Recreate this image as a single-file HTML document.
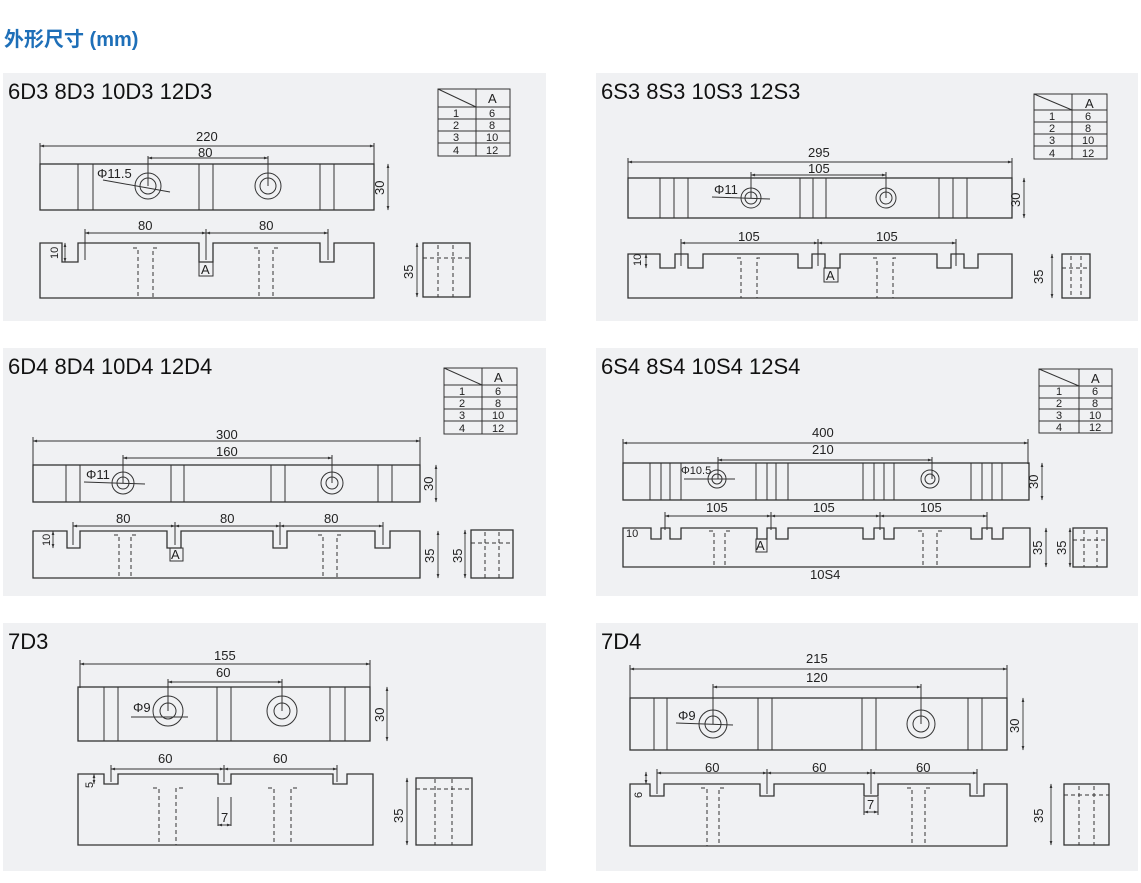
<!DOCTYPE html>
<html><head><meta charset="utf-8"><style>
body{margin:0;background:#fff;}
svg{display:block;}
text{font-family:"Liberation Sans",Arial,sans-serif;fill:#222;}
.t{font-size:22px;fill:#111;}
.d{font-size:13px;}
.s{font-size:11px;}
.o{fill:none;stroke:#333;stroke-width:1.3;}
.l{fill:none;stroke:#333;stroke-width:1;}
.h{fill:none;stroke:#333;stroke-width:1;stroke-dasharray:4,3;}
.dim{stroke:#333;stroke-width:0.9;marker-start:url(#a);marker-end:url(#a);}
</style></head><body>
<svg width="1141" height="883" viewBox="0 0 1141 883" xmlns="http://www.w3.org/2000/svg">
<defs><marker id="a" viewBox="0 0 10 10" refX="9" refY="5" markerWidth="7" markerHeight="5" orient="auto-start-reverse"><path d="M0,2 L10,5 L0,8z" fill="#333"/></marker></defs>
<rect width="1141" height="883" fill="#fff"/>
<text x="4" y="46" style="font-family:'Liberation Sans','Noto Sans CJK SC',sans-serif;font-size:20px;font-weight:bold;fill:#1e6fb8">外形尺寸 (mm)</text>
<rect x="3" y="73" width="543" height="248" fill="#f0f1f3"/>
<rect x="596" y="73" width="542" height="248" fill="#f0f1f3"/>
<rect x="3" y="348" width="543" height="248" fill="#f0f1f3"/>
<rect x="596" y="348" width="542" height="248" fill="#f0f1f3"/>
<rect x="3" y="623" width="543" height="248" fill="#f0f1f3"/>
<rect x="596" y="623" width="542" height="248" fill="#f0f1f3"/>

<!-- Panel 1 -->
<text class="t" x="8" y="99">6D3 8D3 10D3 12D3</text>
<g class="l"><rect x="438" y="89" width="72" height="67"/><line x1="476" y1="89" x2="476" y2="156"/><line x1="438" y1="107" x2="510" y2="107"/><line x1="438" y1="119" x2="510" y2="119"/><line x1="438" y1="131" x2="510" y2="131"/><line x1="438" y1="143" x2="510" y2="143"/><line x1="438" y1="89" x2="476" y2="107"/></g>
<text x="488" y="103" class="d">A</text>
<text class="s" x="453" y="117">1</text><text class="s" x="489" y="117">6</text>
<text class="s" x="453" y="129">2</text><text class="s" x="489" y="129">8</text>
<text class="s" x="453" y="141">3</text><text class="s" x="486" y="141">10</text>
<text class="s" x="453" y="154">4</text><text class="s" x="486" y="154">12</text>
<line class="dim" x1="40" y1="146" x2="374" y2="146"/><text class="d" x="196" y="141">220</text>
<line class="l" x1="40" y1="143" x2="40" y2="168"/><line class="l" x1="374" y1="143" x2="374" y2="168"/>
<line class="dim" x1="148" y1="158" x2="268" y2="158"/><text class="d" x="198" y="157">80</text>
<line class="l" x1="148" y1="156" x2="148" y2="186"/><line class="l" x1="268" y1="156" x2="268" y2="186"/>
<rect class="o" x="40" y="164" width="334" height="46"/>
<g class="l"><line x1="78" y1="164" x2="78" y2="210"/><line x1="93" y1="164" x2="93" y2="210"/><line x1="199" y1="164" x2="199" y2="210"/><line x1="213" y1="164" x2="213" y2="210"/><line x1="320" y1="164" x2="320" y2="210"/><line x1="334" y1="164" x2="334" y2="210"/>
<circle cx="148" cy="186" r="13"/><circle cx="148" cy="186" r="8"/><circle cx="268" cy="186" r="13"/><circle cx="268" cy="186" r="8"/><line x1="103" y1="180" x2="170" y2="192"/></g>
<text class="d" x="97" y="178">Φ11.5</text>
<line class="dim" x1="388" y1="164" x2="388" y2="210"/><text class="d" transform="translate(384,195) rotate(-90)">30</text>
<path class="o" d="M40,298 V243 H62 V262 H78 V243 H199 V262 H213 V243 H320 V262 H334 V243 H374 V298 Z"/>
<line class="dim" x1="85" y1="233" x2="206" y2="233"/><line class="dim" x1="206" y1="233" x2="328" y2="233"/>
<g class="l"><line x1="85" y1="229" x2="85" y2="260"/><line x1="206" y1="229" x2="206" y2="260"/><line x1="328" y1="229" x2="328" y2="260"/></g>
<text class="d" x="138" y="230">80</text><text class="d" x="259" y="230">80</text>
<line class="dim" x1="65" y1="243" x2="65" y2="262"/><text class="s" transform="translate(58,259) rotate(-90)">10</text>
<g class="h"><path d="M133,248 H138 V298 M157,248 H153 V298 M254,248 H259 V298 M278,248 H273 V298"/></g>
<rect class="l" x="199" y="262" width="14" height="14"/><text class="d" x="201" y="274">A</text>
<rect class="o" x="423" y="243" width="47" height="54"/>
<g class="h"><line x1="423" y1="258" x2="470" y2="258"/><line x1="438" y1="245" x2="438" y2="297"/><line x1="453" y1="245" x2="453" y2="297"/></g>
<line class="dim" x1="417" y1="243" x2="417" y2="297"/><text class="d" transform="translate(413,279) rotate(-90)">35</text>

<!-- Panel 2 -->
<text class="t" x="601" y="99">6S3 8S3 10S3 12S3</text>
<g class="l"><rect x="1034" y="94" width="73" height="65"/><line x1="1072" y1="94" x2="1072" y2="159"/><line x1="1034" y1="110" x2="1107" y2="110"/><line x1="1034" y1="122" x2="1107" y2="122"/><line x1="1034" y1="134" x2="1107" y2="134"/><line x1="1034" y1="146" x2="1107" y2="146"/><line x1="1034" y1="94" x2="1072" y2="110"/></g>
<text x="1085" y="108" class="d">A</text>
<text class="s" x="1049" y="120">1</text><text class="s" x="1085" y="120">6</text>
<text class="s" x="1049" y="132">2</text><text class="s" x="1085" y="132">8</text>
<text class="s" x="1049" y="144">3</text><text class="s" x="1082" y="144">10</text>
<text class="s" x="1049" y="157">4</text><text class="s" x="1082" y="157">12</text>
<line class="dim" x1="628" y1="162" x2="1012" y2="162"/><text class="d" x="808" y="157">295</text>
<line class="l" x1="628" y1="158" x2="628" y2="180"/><line class="l" x1="1012" y1="158" x2="1012" y2="180"/>
<line class="dim" x1="751" y1="175" x2="886" y2="175"/><text class="d" x="808" y="173">105</text>
<line class="l" x1="751" y1="172" x2="751" y2="198"/><line class="l" x1="886" y1="172" x2="886" y2="198"/>
<rect class="o" x="628" y="178" width="384" height="40"/>
<g class="l"><path d="M660,178V218M674,178V218M688,178V218M800,178V218M813,178V218M826,178V218M939,178V218M953,178V218M967,178V218"/>
<circle cx="751" cy="198" r="10"/><circle cx="751" cy="198" r="6"/><circle cx="886" cy="198" r="10"/><circle cx="886" cy="198" r="6"/><line x1="712" y1="197" x2="770" y2="199"/></g>
<text class="d" x="714" y="194">Φ11</text>
<line class="dim" x1="1024" y1="178" x2="1024" y2="218"/><text class="d" transform="translate(1020,207) rotate(-90)">30</text>
<path class="o" d="M628,298 V254 H660 V268 H675 V254 H688 V268 H703 V254 H798 V268 H812 V254 H825 V268 H840 V254 H937 V268 H951 V254 H964 V268 H978 V254 H1012 V298 Z"/>
<line class="dim" x1="681" y1="243" x2="818" y2="243"/><line class="dim" x1="818" y1="243" x2="956" y2="243"/>
<g class="l"><line x1="681" y1="239" x2="681" y2="266"/><line x1="818" y1="239" x2="818" y2="266"/><line x1="956" y1="239" x2="956" y2="266"/></g>
<text class="d" x="738" y="241">105</text><text class="d" x="876" y="241">105</text>
<line class="dim" x1="646" y1="254" x2="646" y2="268"/><text class="s" transform="translate(641,266) rotate(-90)">10</text>
<g class="h"><path d="M737,258 H741 V298 M760,258 H757 V298 M873,258 H877 V298 M896,258 H893 V298"/></g>
<rect class="l" x="824" y="268" width="14" height="14"/><text class="d" x="826" y="280">A</text>
<rect class="o" x="1062" y="254" width="28" height="44"/>
<g class="h"><line x1="1062" y1="268" x2="1090" y2="268"/><line x1="1071" y1="256" x2="1071" y2="298"/><line x1="1081" y1="256" x2="1081" y2="298"/></g>
<line class="dim" x1="1052" y1="254" x2="1052" y2="298"/><text class="d" transform="translate(1043,284) rotate(-90)">35</text>

<!-- Panel 3 -->
<text class="t" x="8" y="374">6D4 8D4 10D4 12D4</text>
<g class="l"><rect x="444" y="368" width="73" height="66"/><line x1="482" y1="368" x2="482" y2="434"/><line x1="444" y1="385" x2="517" y2="385"/><line x1="444" y1="397" x2="517" y2="397"/><line x1="444" y1="409" x2="517" y2="409"/><line x1="444" y1="421" x2="517" y2="421"/><line x1="444" y1="368" x2="482" y2="385"/></g>
<text x="494" y="382" class="d">A</text>
<text class="s" x="459" y="395">1</text><text class="s" x="495" y="395">6</text>
<text class="s" x="459" y="407">2</text><text class="s" x="495" y="407">8</text>
<text class="s" x="459" y="419">3</text><text class="s" x="492" y="419">10</text>
<text class="s" x="459" y="432">4</text><text class="s" x="492" y="432">12</text>
<line class="dim" x1="33" y1="441" x2="420" y2="441"/><text class="d" x="216" y="439">300</text>
<line class="l" x1="33" y1="437" x2="33" y2="466"/><line class="l" x1="420" y1="437" x2="420" y2="466"/>
<line class="dim" x1="123" y1="458" x2="332" y2="458"/><text class="d" x="216" y="456">160</text>
<line class="l" x1="123" y1="455" x2="123" y2="483"/><line class="l" x1="332" y1="455" x2="332" y2="483"/>
<rect class="o" x="33" y="465" width="387" height="37"/>
<g class="l"><path d="M66,465V502M80,465V502M171,465V502M184,465V502M271,465V502M285,465V502M378,465V502M392,465V502"/>
<circle cx="123" cy="483" r="11"/><circle cx="123" cy="483" r="6"/><circle cx="332" cy="483" r="11"/><circle cx="332" cy="483" r="6"/><line x1="84" y1="482" x2="145" y2="484"/></g>
<text class="d" x="86" y="479">Φ11</text>
<line class="dim" x1="436" y1="465" x2="436" y2="502"/><text class="d" transform="translate(433,491) rotate(-90)">30</text>
<path class="o" d="M33,578 V531 H67 V548 H80 V531 H167 V548 H181 V531 H273 V548 H287 V531 H375 V548 H390 V531 H420 V578 Z"/>
<line class="dim" x1="73" y1="526" x2="175" y2="526"/><line class="dim" x1="175" y1="526" x2="280" y2="526"/><line class="dim" x1="280" y1="526" x2="383" y2="526"/>
<g class="l"><line x1="73" y1="522" x2="73" y2="545"/><line x1="175" y1="522" x2="175" y2="545"/><line x1="280" y1="522" x2="280" y2="545"/><line x1="383" y1="522" x2="383" y2="545"/></g>
<text class="d" x="116" y="523">80</text><text class="d" x="220" y="523">80</text><text class="d" x="324" y="523">80</text>
<line class="dim" x1="53" y1="531" x2="53" y2="548"/><text class="s" transform="translate(50,546) rotate(-90)">10</text>
<g class="h"><path d="M114,535 H119 V578 M136,535 H131 V578 M318,535 H323 V578 M341,535 H337 V578"/></g>
<rect class="l" x="170" y="548" width="13" height="13"/><text class="d" x="171" y="559">A</text>
<rect class="o" x="471" y="530" width="42" height="48"/>
<g class="h"><line x1="471" y1="543" x2="513" y2="543"/><line x1="485" y1="532" x2="485" y2="578"/><line x1="499" y1="532" x2="499" y2="578"/></g>
<line class="dim" x1="465" y1="530" x2="465" y2="578"/><text class="d" transform="translate(462,563) rotate(-90)">35</text>
<line class="dim" x1="438" y1="531" x2="438" y2="578"/><text class="d" transform="translate(434,563) rotate(-90)">35</text>

<!-- Panel 4 -->
<text class="t" x="601" y="374">6S4 8S4 10S4 12S4</text>
<g class="l"><rect x="1039" y="369" width="73" height="64"/><line x1="1079" y1="369" x2="1079" y2="433"/><line x1="1039" y1="386" x2="1112" y2="386"/><line x1="1039" y1="398" x2="1112" y2="398"/><line x1="1039" y1="409" x2="1112" y2="409"/><line x1="1039" y1="421" x2="1112" y2="421"/><line x1="1039" y1="369" x2="1079" y2="386"/></g>
<text x="1091" y="383" class="d">A</text>
<text class="s" x="1056" y="395">1</text><text class="s" x="1092" y="395">6</text>
<text class="s" x="1056" y="407">2</text><text class="s" x="1092" y="407">8</text>
<text class="s" x="1056" y="419">3</text><text class="s" x="1089" y="419">10</text>
<text class="s" x="1056" y="431">4</text><text class="s" x="1089" y="431">12</text>
<line class="dim" x1="623" y1="443" x2="1028" y2="443"/><text class="d" x="812" y="437">400</text>
<line class="l" x1="623" y1="439" x2="623" y2="464"/><line class="l" x1="1028" y1="439" x2="1028" y2="464"/>
<line class="dim" x1="718" y1="460" x2="932" y2="460"/><text class="d" x="812" y="454">210</text>
<line class="l" x1="718" y1="457" x2="718" y2="479"/><line class="l" x1="932" y1="457" x2="932" y2="479"/>
<rect class="o" x="623" y="463" width="406" height="37"/>
<g class="l"><path d="M650,463V500M661,463V500M670,463V500M681,463V500M756,463V500M767,463V500M776,463V500M788,463V500M863,463V500M874,463V500M884,463V500M894,463V500M971,463V500M982,463V500M992,463V500M1002,463V500"/>
<circle cx="717" cy="479" r="9"/><circle cx="717" cy="479" r="5"/><circle cx="930" cy="479" r="9"/><circle cx="930" cy="479" r="5"/><line x1="684" y1="479" x2="735" y2="479"/></g>
<text class="s" x="681" y="474">Φ10.5</text>
<line class="dim" x1="1042" y1="463" x2="1042" y2="500"/><text class="d" transform="translate(1038,489) rotate(-90)">30</text>
<path class="o" d="M623,567 V528 H651 V539 H661 V528 H670 V539 H681 V528 H757 V539 H767 V528 H776 V539 H788 V528 H863 V539 H874 V528 H884 V539 H894 V528 H971 V539 H982 V528 H992 V539 H1003 V528 H1030 V567 Z"/>
<line class="dim" x1="665" y1="516" x2="771" y2="516"/><line class="dim" x1="771" y1="516" x2="880" y2="516"/><line class="dim" x1="880" y1="516" x2="987" y2="516"/>
<g class="l"><line x1="665" y1="512" x2="665" y2="530"/><line x1="771" y1="512" x2="771" y2="530"/><line x1="880" y1="512" x2="880" y2="530"/><line x1="987" y1="512" x2="987" y2="530"/></g>
<text class="d" x="706" y="512">105</text><text class="d" x="813" y="512">105</text><text class="d" x="920" y="512">105</text>
<text class="s" x="626" y="537">10</text>
<g class="h"><path d="M709,531 H714 V567 M730,531 H725 V567 M918,531 H923 V567 M942,531 H937 V567"/></g>
<rect class="l" x="756" y="539" width="11" height="13"/><text class="d" x="756" y="550">A</text>
<text class="d" x="810" y="579">10S4</text>
<rect class="o" x="1073" y="528" width="34" height="39"/>
<g class="h"><line x1="1073" y1="540" x2="1107" y2="540"/><line x1="1084" y1="530" x2="1084" y2="567"/><line x1="1097" y1="530" x2="1097" y2="567"/></g>
<line class="dim" x1="1070" y1="528" x2="1070" y2="567"/><text class="d" transform="translate(1066,555) rotate(-90)">35</text>
<line class="dim" x1="1046" y1="528" x2="1046" y2="567"/><text class="d" transform="translate(1042,555) rotate(-90)">35</text>

<!-- Panel 5 -->
<text class="t" x="8" y="649">7D3</text>
<line class="dim" x1="80" y1="664" x2="370" y2="664"/><text class="d" x="214" y="660">155</text>
<line class="l" x1="80" y1="660" x2="80" y2="688"/><line class="l" x1="370" y1="660" x2="370" y2="688"/>
<line class="dim" x1="168" y1="682" x2="282" y2="682"/><text class="d" x="216" y="677">60</text>
<line class="l" x1="168" y1="679" x2="168" y2="711"/><line class="l" x1="282" y1="679" x2="282" y2="711"/>
<rect class="o" x="78" y="687" width="292" height="54"/>
<g class="l"><path d="M104,687V741M118,687V741M217,687V741M231,687V741M330,687V741M345,687V741"/>
<circle cx="168" cy="711" r="15"/><circle cx="168" cy="711" r="8"/><circle cx="282" cy="711" r="15"/><circle cx="282" cy="711" r="8"/><line x1="131" y1="717" x2="188" y2="717"/></g>
<text class="d" x="133" y="712">Φ9</text>
<line class="dim" x1="387" y1="687" x2="387" y2="741"/><text class="d" transform="translate(384,722) rotate(-90)">30</text>
<path class="o" d="M78,857 V786 H104 V796 H118 V786 H218 V796 H231 V786 H333 V796 H347 V786 H373 V857 Z" transform="translate(0,-12)"/>
<line class="dim" x1="111" y1="769" x2="224" y2="769"/><line class="dim" x1="224" y1="769" x2="337" y2="769"/>
<g class="l"><line x1="111" y1="765" x2="111" y2="782"/><line x1="224" y1="765" x2="224" y2="782"/><line x1="337" y1="765" x2="337" y2="782"/></g>
<text class="d" x="158" y="763">60</text><text class="d" x="273" y="763">60</text>
<line class="dim" x1="94" y1="774" x2="94" y2="784"/><text class="s" transform="translate(93,788) rotate(-90)">5</text>
<g class="h"><path d="M153,788 H159 V845 M183,788 H176 V845 M268,788 H274 V845 M297,788 H291 V845"/></g>
<line class="l" x1="218" y1="797" x2="218" y2="826"/><line class="l" x1="231" y1="797" x2="231" y2="826"/><line class="dim" x1="218" y1="825" x2="231" y2="825"/><text class="d" x="221" y="822">7</text>
<rect class="o" x="416" y="778" width="56" height="67"/>
<g class="h"><line x1="416" y1="789" x2="472" y2="789"/><line x1="435" y1="779" x2="435" y2="845"/><line x1="452" y1="779" x2="452" y2="845"/></g>
<line class="dim" x1="407" y1="778" x2="407" y2="845"/><text class="d" transform="translate(403,823) rotate(-90)">35</text>

<!-- Panel 6 -->
<text class="t" x="601" y="649">7D4</text>
<line class="dim" x1="630" y1="669" x2="1007" y2="669"/><text class="d" x="806" y="663">215</text>
<line class="l" x1="630" y1="665" x2="630" y2="699"/><line class="l" x1="1007" y1="665" x2="1007" y2="699"/>
<line class="dim" x1="713" y1="687" x2="921" y2="687"/><text class="d" x="806" y="682">120</text>
<line class="l" x1="713" y1="684" x2="713" y2="724"/><line class="l" x1="921" y1="684" x2="921" y2="724"/>
<rect class="o" x="630" y="698" width="377" height="52"/>
<g class="l"><path d="M654,698V750M667,698V750M758,698V750M772,698V750M862,698V750M876,698V750M968,698V750M982,698V750"/>
<circle cx="713" cy="724" r="14"/><circle cx="713" cy="724" r="8"/><circle cx="921" cy="724" r="14"/><circle cx="921" cy="724" r="8"/><line x1="676" y1="723" x2="733" y2="725"/></g>
<text class="d" x="678" y="720">Φ9</text>
<line class="dim" x1="1023" y1="698" x2="1023" y2="750"/><text class="d" transform="translate(1019,733) rotate(-90)">30</text>
<path class="o" d="M630,846 V784 H650 V796 H664 V784 H760 V796 H774 V784 H864 V796 H878 V784 H970 V796 H984 V784 H1007 V846 Z"/>
<line class="dim" x1="657" y1="773" x2="767" y2="773"/><line class="dim" x1="767" y1="773" x2="871" y2="773"/><line class="dim" x1="871" y1="773" x2="977" y2="773"/>
<g class="l"><line x1="657" y1="769" x2="657" y2="794"/><line x1="767" y1="769" x2="767" y2="794"/><line x1="871" y1="769" x2="871" y2="794"/><line x1="977" y1="769" x2="977" y2="794"/></g>
<text class="d" x="705" y="772">60</text><text class="d" x="812" y="772">60</text><text class="d" x="916" y="772">60</text>
<line class="dim" x1="646" y1="772" x2="646" y2="784"/><text class="s" transform="translate(642,798) rotate(-90)">6</text>
<g class="h"><path d="M701,788 H707 V846 M724,788 H719 V846 M907,788 H912 V846 M930,788 H925 V846"/></g>
<line class="l" x1="864" y1="797" x2="864" y2="815"/><line class="l" x1="878" y1="797" x2="878" y2="815"/><line class="dim" x1="864" y1="812" x2="878" y2="812"/><text class="d" x="867" y="809">7</text>
<rect class="o" x="1064" y="784" width="45" height="61"/>
<g class="h"><line x1="1064" y1="795" x2="1109" y2="795"/><line x1="1079" y1="786" x2="1079" y2="845"/><line x1="1094" y1="786" x2="1094" y2="845"/></g>
<line class="dim" x1="1051" y1="784" x2="1051" y2="845"/><text class="d" transform="translate(1043,823) rotate(-90)">35</text>
</svg>
</body></html>
